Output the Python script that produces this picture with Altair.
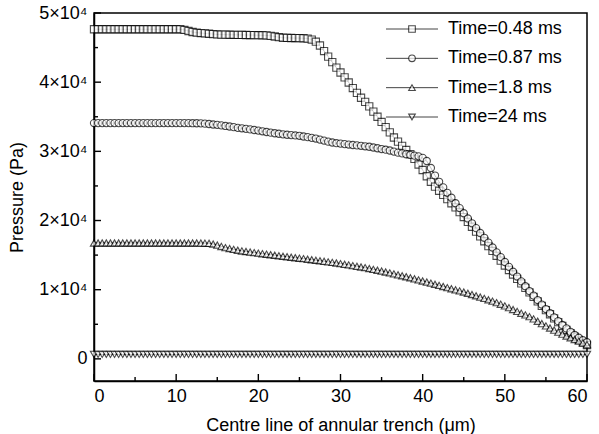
import altair as alt
import pandas as pd

# Position along the centre line of the annular trench (micrometres)
x_um = [
    0, 0.5, 1, 1.5, 2, 2.5, 3, 3.5, 4, 4.5, 5, 5.5, 6, 6.5, 7, 7.5, 8, 8.5, 9, 9.5,
    10, 10.5, 11, 11.5, 12, 12.5, 13, 13.5, 14, 14.5, 15, 15.5, 16, 16.5, 17, 17.5, 18, 18.5, 19, 19.5,
    20, 20.5, 21, 21.5, 22, 22.5, 23, 23.5, 24, 24.5, 25, 25.5, 26, 26.5, 27, 27.5, 28, 28.5, 29, 29.5,
    30, 30.5, 31, 31.5, 32, 32.5, 33, 33.5, 34, 34.5, 35, 35.5, 36, 36.5, 37, 37.5, 38, 38.5, 39, 39.5,
    40, 40.5, 41, 41.5, 42, 42.5, 43, 43.5, 44, 44.5, 45, 45.5, 46, 46.5, 47, 47.5, 48, 48.5, 49, 49.5,
    50, 50.5, 51, 51.5, 52, 52.5, 53, 53.5, 54, 54.5, 55, 55.5, 56, 56.5, 57, 57.5, 58, 58.5, 59, 59.5,
    60,
]

# Pressure (Pa) at t = 0.48 ms
p_048 = [
    47650, 47650, 47650, 47650, 47650, 47650, 47650, 47650, 47650, 47650,
    47650, 47650, 47650, 47650, 47650, 47650, 47650, 47650, 47650, 47650,
    47650, 47650,
    47550, 47400, 47250, 47150, 47100, 47050, 47000, 46950, 46900, 46880,   # 11 .. 15.5
    46870, 46860, 46850, 46840, 46830, 46820, 46810, 46800, 46790, 46780,   # 16 .. 20.5
    46760, 46700, 46600, 46500, 46420, 46400, 46390, 46380, 46370, 46350,   # 21 .. 25.5
    46300, 46150, 45850, 45300, 44500, 43700, 42900, 42100, 41400, 40700,   # 26 .. 30.5
    39950, 39150, 38450, 37750, 37150, 36500, 35750, 35000, 34250, 33500,   # 31 .. 35.5
    32750, 32000, 31400, 30800, 30200, 29600, 28900, 28100, 27300, 26400,   # 36 .. 40.5
    25600, 24900, 24300, 23700, 23100, 22500, 21900, 21200, 20500, 19800,   # 41 .. 45.5
    19100, 18400, 17700, 17000, 16300, 15600, 14900, 14200, 13500, 12850,   # 46 .. 50.5
    12200, 11550, 10900, 10250, 9600, 8950, 8300, 7650, 7050, 6450,        # 51 .. 55.5
    5850, 5300, 4750, 4200, 3700, 3200, 2750, 2350, 2000,                  # 56 .. 60
]

# Pressure (Pa) at t = 0.87 ms
p_087 = [
    34080, 34080, 34080, 34080, 34080, 34080, 34080, 34080, 34080, 34080,
    34080, 34080, 34080, 34080, 34080, 34080, 34080, 34080, 34080, 34080,
    34080, 34080, 34080, 34080, 34070, 34060, 34050,
    34000, 33950, 33880, 33830, 33750, 33670, 33590, 33500, 33400, 33330,   # 13.5 .. 18
    33250, 33170, 33090, 33000, 32900, 32800, 32700, 32620, 32540, 32460,   # 18.5 .. 23
    32400, 32350, 32300, 32250, 32150, 32050, 31950, 31850, 31700, 31550,   # 23.5 .. 28
    31400, 31280, 31180, 31120, 31050, 30980, 30920, 30860, 30800, 30730,   # 28.5 .. 33
    30660, 30560, 30450, 30330, 30240, 30120, 29960, 29810, 29700, 29580,   # 33.5 .. 38
    29480, 29380, 29280, 29050, 28600, 27600, 26500, 25600, 24800, 24000,   # 38.5 .. 43
    23300, 22500, 21800, 21050, 20300, 19600, 18900, 18200, 17500, 16800,   # 43.5 .. 48
    16100, 15400, 14700, 14000, 13300, 12600, 11900, 11200, 10500, 9800,   # 48.5 .. 53
    9150, 8500, 7850, 7200, 6600, 6000, 5450, 4900, 4400, 3900,            # 53.5 .. 58
    3450, 3050, 2700, 2400,                                                # 58.5 .. 60
]

# Pressure (Pa) at t = 1.8 ms
p_18 = [
    16750, 16750, 16750, 16750, 16750, 16750, 16750, 16750, 16750, 16750,
    16750, 16750, 16750, 16750, 16750, 16750, 16750, 16750, 16750, 16750,
    16750, 16750, 16750, 16750, 16750, 16750, 16740, 16720,
    16700, 16600, 16450, 16250, 16080, 15950, 15820, 15700, 15600, 15520,   # 14 .. 18.5
    15440, 15360, 15280, 15200, 15130, 15050, 14980, 14900, 14830, 14760,   # 19 .. 23.5
    14690, 14620, 14550, 14480, 14400, 14330, 14250, 14180, 14100, 14020,   # 24 .. 28.5
    13940, 13860, 13770, 13670, 13580, 13480, 13380, 13280, 13180, 13060,   # 29 .. 33.5
    12940, 12810, 12690, 12560, 12430, 12290, 12150, 12010, 11870, 11720,   # 34 .. 38.5
    11570, 11420, 11260, 11100, 10940, 10780, 10620, 10460, 10300, 10140,   # 39 .. 43.5
    9980, 9820, 9660, 9480, 9300, 9120, 8930, 8740, 8540, 8340,            # 44 .. 48.5
    8130, 7900, 7650, 7400, 7130, 6860, 6600, 6350, 6100, 5770,            # 49 .. 53.5
    5440, 5100, 4770, 4460, 4160, 3860, 3570, 3300, 3050, 2800,            # 54 .. 58.5
    2560, 2320, 2050,                                                      # 59 .. 60
]

# Pressure (Pa) at t = 24 ms
p_24 = [
    650, 650, 650, 650, 650, 650, 650, 650, 650, 650,
    650, 650, 650, 650, 650, 650, 650, 650, 650, 650,
    650, 650, 650, 650, 650, 650, 650, 650, 650, 650,
    650, 650, 650, 650, 650, 650, 650, 650, 650, 650,
    650, 650, 650, 650, 650, 650, 650, 650, 650, 650,
    650, 650, 650, 650, 650, 650, 650, 650, 650, 650,
    650, 650, 650, 650, 650, 650, 650, 650, 650, 650,
    650, 650, 650, 650, 650, 650, 650, 650, 650, 650,
    650, 650, 650, 650, 650, 650, 650, 650, 650, 650,
    650, 650, 650, 650, 650, 650, 650, 650, 650, 650,
    650, 650, 650, 650, 650, 650, 650, 650, 650, 650,
    650, 650, 650, 650, 650, 650, 650, 650, 650, 650,
    650,
]

series_names = ["Time=0.48 ms", "Time=0.87 ms", "Time=1.8 ms", "Time=24 ms"]
series_values = [p_048, p_087, p_18, p_24]

x_major = [0, 10, 20, 30, 40, 50, 60]
x_minor = [5, 15, 25, 35, 45, 55]
y_major = [0, 10000, 20000, 30000, 40000, 50000]
y_minor = [5000, 15000, 25000, 35000, 45000]

rows = []
for name, vals in zip(series_names, series_values):
    for xv, pv in zip(x_um, vals):
        rows.append({"x": xv, "p": pv, "series": name})
df = pd.DataFrame(rows)
legend_df = pd.DataFrame({"series": series_names})

W, H = 493, 368
FONT = "Liberation Sans"
INK = "#000000"

x_scale = alt.Scale(domain=[0, 60], nice=False, zero=False)
y_scale = alt.Scale(domain=[-3200, 50000], nice=False, zero=False)
shape_scale = alt.Scale(
    domain=series_names, range=["square", "circle", "triangle-up", "triangle-down"]
)

x_axis = alt.Axis(
    values=x_major, ticks=False, grid=False, labelPadding=6,
    title="Centre line of annular trench (μm)", titlePadding=11,
)
y_axis = alt.Axis(
    values=y_major, ticks=False, grid=False, labelPadding=7,
    labelExpr="datum.value == 0 ? '0' : format(datum.value / 10000, 'd') + '×10⁴'",
    title="Pressure (Pa)", titlePadding=12,
)

base = alt.Chart(df)
enc_x = alt.X("x:Q", scale=x_scale, axis=x_axis)
enc_y = alt.Y("p:Q", scale=y_scale, axis=y_axis)

lines = base.mark_line(color="#333333", strokeWidth=1).encode(
    x=enc_x, y=enc_y, detail="series:N",
)

points = base.mark_point(
    filled=True, fill="white", stroke=INK, strokeWidth=1.1, size=52
).encode(
    x=enc_x, y=enc_y,
    shape=alt.Shape("series:N", scale=shape_scale, legend=None),
)

# inward tick marks along the bottom and left edges
tx = alt.X("t:Q", scale=x_scale, axis=x_axis)
ty = alt.Y("t:Q", scale=y_scale, axis=y_axis)
xt_major = alt.Chart(pd.DataFrame({"t": x_major})).mark_rule(color="black", strokeWidth=1.4).encode(
    x=tx, y=alt.value(H), y2=alt.value(H - 7)
)
xt_minor = alt.Chart(pd.DataFrame({"t": x_minor})).mark_rule(color="black", strokeWidth=1.4).encode(
    x=tx, y=alt.value(H), y2=alt.value(H - 4)
)
yt_major = alt.Chart(pd.DataFrame({"t": y_major})).mark_rule(color="black", strokeWidth=1.4).encode(
    y=ty, x=alt.value(0), x2=alt.value(7)
)
yt_minor = alt.Chart(pd.DataFrame({"t": y_minor})).mark_rule(color="black", strokeWidth=1.4).encode(
    y=ty, x=alt.value(0), x2=alt.value(4)
)

plot = alt.layer(lines, points, xt_major, xt_minor, yt_major, yt_minor)

# legend block in the upper right corner: line + marker + label per series
row_y = alt.Y(
    "series:N",
    scale=alt.Scale(type="point", domain=series_names, range=[16, 104], padding=0),
    axis=None,
)
leg_base = alt.Chart(legend_df)
leg_lines = leg_base.mark_rule(color="#444444", strokeWidth=1).encode(
    y=row_y, x=alt.value(292), x2=alt.value(344)
)
leg_marks = leg_base.mark_point(
    filled=True, fill="white", stroke=INK, strokeWidth=1.1, size=44
).encode(
    y=row_y, x=alt.value(318),
    shape=alt.Shape("series:N", scale=shape_scale, legend=None),
)
leg_text = leg_base.mark_text(
    align="left", baseline="middle", font=FONT, fontSize=18, color="black"
).encode(
    y=row_y, x=alt.value(354), text="series:N"
)
legend_block = alt.layer(leg_lines, leg_marks, leg_text)

chart = (
    alt.layer(plot, legend_block)
    .resolve_scale(y="independent")
    .properties(
        width=W,
        height=H,
        padding={"left": 94, "top": 13, "right": 12, "bottom": 53},
        autosize=alt.AutoSizeParams(type="none"),
        background="white",
    )
    .configure_view(stroke="black", strokeWidth=1.5)
    .configure_axis(
        domainColor="black", domainWidth=1.5, grid=False,
        labelFont=FONT, labelFontSize=18, labelColor="black",
        titleFont=FONT, titleFontSize=18, titleFontWeight="normal", titleColor="black",
    )
)

chart.save("out.html", embed_options={"renderer": "svg", "actions": False})
